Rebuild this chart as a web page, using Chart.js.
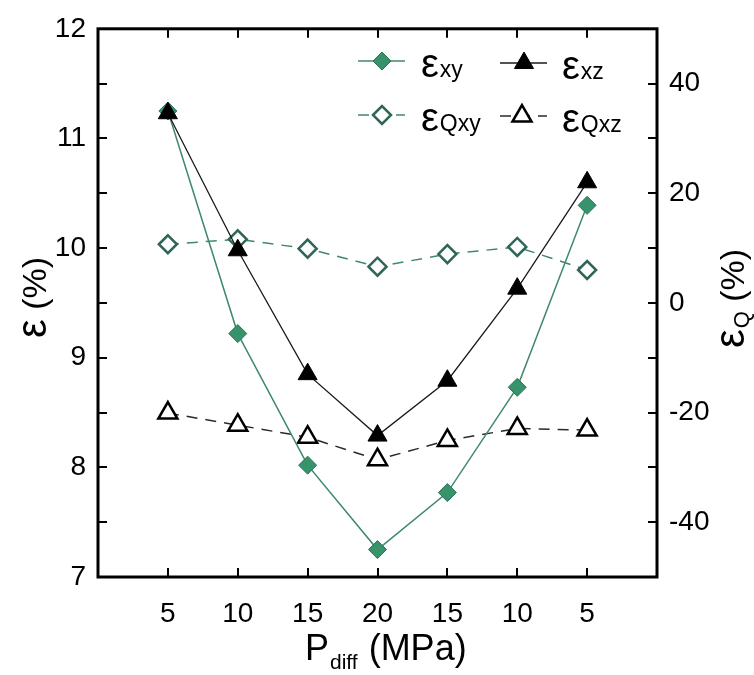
<!DOCTYPE html>
<html>
<head>
<meta charset="utf-8">
<script src="https://cdn.jsdelivr.net/npm/chart.js@4.4.1/dist/chart.umd.min.js"></script>
<style>
    html, body { margin: 0; padding: 0; background: #fff; }
    #wrap { width: 754px; height: 675px; position: relative; }
</style>
</head>
<body>
<div id="wrap"><canvas id="strainChart" width="754" height="675"></canvas></div>
<script>
// loading path: 5 -> 20 -> 5 MPa differential pressure
const xLabels = ['5', '10', '15', '20', '15', '10', '5'];
const xPos = [1, 2, 3, 4, 5, 6, 7];

// left axis, ε (%)
const epsXY = [11.25, 9.22, 8.02, 7.25, 7.77, 8.73, 10.39];
const epsXZ = [11.23, 9.98, 8.85, 8.29, 8.79, 9.63, 10.60];

// right axis, ε_Q (%)
const epsQXY = [10.7, 11.6, 9.9, 6.6, 8.9, 10.2, 6.0];
const epsQXZ = [-20.1, -22.3, -24.5, -28.6, -25.1, -22.9, -23.2];

const GREEN_FILL = '#37936b';
const GREEN_EDGE = '#2c7356';
const GREEN_LINE = '#3f8a6c';
const TEAL_EDGE = '#2f665a';
const FONT = "'Liberation Sans', Arial, sans-serif";

function points(values) {
    return values.map((v, i) => ({ x: xPos[i], y: v }));
}

// inward tick marks and the closed frame round the plot
const frameAndTicks = {
    id: 'frameAndTicks',
    afterDatasetsDraw(chart) {
        const { ctx, chartArea: a, scales } = chart;
        const len = 9;
        ctx.save();
        ctx.strokeStyle = '#000';
        ctx.lineWidth = 2;
        function seg(x1, y1, x2, y2) {
            ctx.beginPath();
            ctx.moveTo(x1, y1);
            ctx.lineTo(x2, y2);
            ctx.stroke();
        }
        scales.x.ticks.forEach(t => {
            if (t.value <= scales.x.min || t.value >= scales.x.max) return;
            const px = Math.round(scales.x.getPixelForValue(t.value));
            seg(px, a.bottom, px, a.bottom - len);
            seg(px, a.top, px, a.top + len);
        });
        scales.y.ticks.forEach(t => {
            if (t.value <= scales.y.min || t.value >= scales.y.max) return;
            const py = Math.round(scales.y.getPixelForValue(t.value));
            seg(a.left, py, a.left + len, py);
        });
        scales.y2.ticks.forEach(t => {
            if (t.value <= scales.y2.min || t.value >= scales.y2.max) return;
            const py = Math.round(scales.y2.getPixelForValue(t.value));
            seg(a.right, py, a.right - len, py);
        });
        ctx.lineWidth = 3;
        ctx.strokeRect(a.left, a.top, a.right - a.left, a.bottom - a.top);
        ctx.restore();
    }
};

// text with a subscript part; returns the end x
function subText(ctx, x, y, main, sub, mainFont, subFont, drop) {
    ctx.font = mainFont;
    ctx.fillText(main, x, y);
    const w = ctx.measureText(main).width;
    ctx.font = subFont;
    ctx.fillText(sub, x + w + 1, y + drop);
    return x + w + 1 + ctx.measureText(sub).width;
}

// axis titles and the two-column key
const labelsAndKey = {
    id: 'labelsAndKey',
    afterDraw(chart) {
        const ctx = chart.ctx;
        ctx.save();
        ctx.fillStyle = '#000';
        ctx.textBaseline = 'alphabetic';
        ctx.textAlign = 'left';

        // bottom title: P_diff (MPa)
        let x = 305;
        x = subText(ctx, x, 660, 'P', 'diff', '36px ' + FONT, '21px ' + FONT, 9);
        ctx.font = '36px ' + FONT;
        ctx.fillText(' (MPa)', x + 1, 660);

        // left title: ε (%)
        ctx.save();
        ctx.translate(46, 338);
        ctx.rotate(-Math.PI / 2);
        ctx.font = '42px ' + FONT;
        ctx.fillText('ε', 0, 0);
        let w = ctx.measureText('ε').width;
        ctx.font = '34px ' + FONT;
        ctx.fillText(' (%)', w, 0);
        ctx.restore();

        // right title: ε_Q (%)
        ctx.save();
        ctx.translate(744, 348);
        ctx.rotate(-Math.PI / 2);
        let ex = subText(ctx, 0, 0, 'ε', 'Q', '42px ' + FONT, '22px ' + FONT, 5);
        ctx.font = '34px ' + FONT;
        ctx.fillText(' (%)', ex, 0);
        ctx.restore();

        // key
        const ds = chart.data.datasets;
        const rows = [
            { ds: ds[1], lx: 358, rx: 405, mx: 382, tx: 421, y: 61, name: 'xy' },
            { ds: ds[0], lx: 500, rx: 547, mx: 524, tx: 562, y: 63, name: 'xz' },
            { ds: ds[2], lx: 358, rx: 405, mx: 382, tx: 421, y: 115, name: 'Qxy' },
            { ds: ds[3], lx: 500, rx: 547, mx: 522, tx: 562, y: 116, name: 'Qxz' }
        ];
        rows.forEach(r => {
            ctx.save();
            ctx.strokeStyle = r.ds.borderColor;
            ctx.lineWidth = r.ds.borderWidth;
            ctx.setLineDash(r.ds.borderDash || []);
            ctx.beginPath();
            ctx.moveTo(r.lx, r.y);
            ctx.lineTo(r.rx, r.y);
            ctx.stroke();
            ctx.setLineDash([]);
            ctx.fillStyle = r.ds.pointBackgroundColor;
            ctx.strokeStyle = r.ds.pointBorderColor;
            ctx.lineWidth = r.ds.pointBorderWidth;
            Chart.helpers.drawPoint(ctx, {
                pointStyle: r.ds.pointStyle,
                radius: r.ds.pointRadius,
                borderWidth: r.ds.pointBorderWidth,
                rotation: 0
            }, r.mx, r.y);
            ctx.restore();
            ctx.fillStyle = '#000';
            subText(ctx, r.tx, r.y + 16, 'ε', r.name, '40px ' + FONT, '23px ' + FONT, 0);
        });
        ctx.restore();
    }
};

const ctx = document.getElementById('strainChart').getContext('2d');
new Chart(ctx, {
    type: 'line',
    data: {
        datasets: [
            {
                label: 'εxz',
                data: points(epsXZ),
                yAxisID: 'y',
                borderColor: '#1a1a1a',
                borderWidth: 1.3,
                pointStyle: 'triangle',
                pointRadius: 11,
                pointBackgroundColor: '#000',
                pointBorderColor: '#000',
                pointBorderWidth: 1,
                order: 0
            },
            {
                label: 'εxy',
                data: points(epsXY),
                yAxisID: 'y',
                borderColor: GREEN_LINE,
                borderWidth: 1.5,
                pointStyle: 'rectRot',
                pointRadius: 9,
                pointBackgroundColor: GREEN_FILL,
                pointBorderColor: GREEN_EDGE,
                pointBorderWidth: 1,
                order: 1
            },
            {
                label: 'εQxy',
                data: points(epsQXY),
                yAxisID: 'y2',
                borderColor: GREEN_LINE,
                borderWidth: 1.5,
                borderDash: [11, 8],
                pointStyle: 'rectRot',
                pointRadius: 9,
                pointBackgroundColor: '#fff',
                pointBorderColor: TEAL_EDGE,
                pointBorderWidth: 2.5,
                order: 2
            },
            {
                label: 'εQxz',
                data: points(epsQXZ),
                yAxisID: 'y2',
                borderColor: '#2a2a2a',
                borderWidth: 1.5,
                borderDash: [11, 8],
                pointStyle: 'triangle',
                pointRadius: 11,
                pointBackgroundColor: '#fff',
                pointBorderColor: '#000',
                pointBorderWidth: 2.5,
                order: 3
            }
        ]
    },
    options: {
        responsive: false,
        animation: false,
        layout: { padding: { top: 18, left: 0, right: 0, bottom: 0 } },
        plugins: {
            legend: { display: false },
            tooltip: { enabled: false }
        },
        elements: { line: { tension: 0 } },
        scales: {
            x: {
                type: 'linear',
                position: 'bottom',
                min: 0,
                max: 8,
                afterFit: s => { s.height = 98; },
                grid: { display: false, drawTicks: false },
                border: { display: false },
                ticks: {
                    stepSize: 1,
                    padding: 20,
                    color: '#000',
                    font: { family: FONT, size: 28 },
                    callback: v => xLabels[v - 1] || ''
                }
            },
            y: {
                position: 'left',
                min: 7,
                max: 12,
                afterFit: s => { s.width = 98; },
                grid: { display: false, drawTicks: false },
                border: { display: false },
                ticks: {
                    stepSize: 0.5,
                    padding: 12,
                    color: '#000',
                    font: { family: FONT, size: 28 },
                    callback: v => (Number.isInteger(v) ? String(v) : '')
                }
            },
            y2: {
                position: 'right',
                min: -50,
                max: 50,
                afterFit: s => { s.width = 97; },
                grid: { display: false, drawTicks: false },
                border: { display: false },
                ticks: {
                    stepSize: 10,
                    padding: 12,
                    color: '#000',
                    font: { family: FONT, size: 28 },
                    callback: v => (v % 20 === 0 ? String(v) : '')
                }
            }
        }
    },
    plugins: [frameAndTicks, labelsAndKey]
});
</script>
</body>
</html>
